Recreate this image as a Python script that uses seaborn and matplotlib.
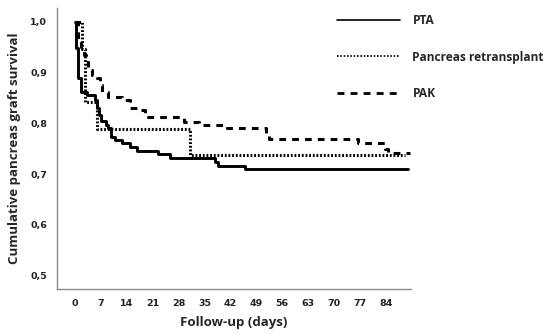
import numpy as np
import pandas as pd
import matplotlib
matplotlib.use("Agg")
import matplotlib.pyplot as plt
import seaborn as sns
from matplotlib.lines import Line2D
from matplotlib.ticker import FuncFormatter

# Kaplan-Meier steps (day of event, survival after event)
pta_days = [0, 0.3, 0.9, 1.6, 3.3, 5.4, 5.9, 6.5, 7.0, 8.4, 9.0, 9.7, 10.8, 12.6,
            14.9, 16.7, 22.5, 25.7, 37.8, 38.7, 46.0, 90.0]
pta_surv = [1.0, 0.948, 0.89, 0.862, 0.856, 0.846, 0.83, 0.816, 0.805, 0.797, 0.79,
            0.774, 0.767, 0.761, 0.754, 0.745, 0.74, 0.731, 0.724, 0.717, 0.711, 0.711]

retx_days = [0, 1.8, 2.7, 5.9, 31.0, 89.2]
retx_surv = [1.0, 0.947, 0.842, 0.789, 0.737, 0.737]

pak_days = [0, 0.8, 1.5, 2.3, 3.0, 3.6, 4.5, 6.0, 6.8, 7.2, 8.9, 12.6, 14.9, 17.6,
            18.9, 29.5, 33.5, 41.0, 51.5, 52.5, 76.5, 83.8, 84.5, 90.5]
pak_surv = [1.0, 0.965, 0.95, 0.935, 0.92, 0.905, 0.895, 0.89, 0.875, 0.862, 0.852,
            0.846, 0.83, 0.826, 0.813, 0.802, 0.797, 0.790, 0.780, 0.770, 0.762,
            0.750, 0.742, 0.742]

groups = ["PTA", "Pancreas retransplant", "PAK"]
x_ticks = list(range(0, 85, 7))
y_ticks = [0.5, 0.6, 0.7, 0.8, 0.9, 1.0]

df = pd.concat([
    pd.DataFrame({"day": pta_days, "surv": pta_surv, "group": "PTA"}),
    pd.DataFrame({"day": retx_days, "surv": retx_surv, "group": "Pancreas retransplant"}),
    pd.DataFrame({"day": pak_days, "surv": pak_surv, "group": "PAK"}),
])

sns.set_style("white")
plt.rcParams["font.family"] = ["DejaVu Sans"]

fig = plt.figure(figsize=(5.5, 3.34), dpi=100)
ax = fig.add_axes([0.1036, 0.1347, 0.6434, 0.8413])

styles = {
    "PTA": dict(linestyle="-", lw=2.1),
    "Pancreas retransplant": dict(linestyle=(0, (0.6, 0.6)), lw=2.2),
    "PAK": dict(linestyle=(0, (2.2, 2.0)), lw=2.2),
}

for g in groups:
    sub = df[df["group"] == g]
    sns.lineplot(data=sub, x="day", y="surv", ax=ax, color="black",
                 estimator=None, sort=False, drawstyle="steps-post",
                 legend=False, **styles[g])

ax.set_xlim(-4.9, 90.8)
ax.set_ylim(0.474, 1.027)
ax.set_xticks(x_ticks)
ax.set_yticks(y_ticks)
ax.yaxis.set_major_formatter(FuncFormatter(lambda v, p: f"{v:.1f}".replace(".", ",")))

for side in ["top", "right"]:
    ax.spines[side].set_visible(False)
for side in ["left", "bottom"]:
    ax.spines[side].set_color("#8c8c8c")
    ax.spines[side].set_linewidth(1.0)

ax.tick_params(axis="both", which="major", direction="out", length=3, width=0.8,
               color="#8c8c8c", labelsize=6.8, labelcolor="#222222", pad=4)
for lab in ax.get_xticklabels() + ax.get_yticklabels():
    lab.set_fontweight("bold")

ax.set_xlabel("Follow-up (days)", fontsize=9.5, fontweight="bold",
              family="Open Sans", labelpad=6)
ax.set_ylabel("Cumulative pancreas graft survival", fontsize=9.5,
              fontweight="bold", family="Open Sans", labelpad=7)

handles = [
    Line2D([], [], color="black", linestyle="-", lw=1.2),
    Line2D([], [], color="black", linestyle=(0, (1, 1)), lw=1.2),
    Line2D([], [], color="black", linestyle=(0, (2.5, 2.2)), lw=2.0),
]
fig.legend(handles, groups, loc="upper left", bbox_to_anchor=(0.613, 0.959),
           frameon=False, borderpad=0, borderaxespad=0, handlelength=5.3,
           handletextpad=1.0, labelspacing=2.0,
           prop={"family": "Open Sans", "weight": "bold", "size": 8.6})

fig.savefig("out.png", dpi=100)
